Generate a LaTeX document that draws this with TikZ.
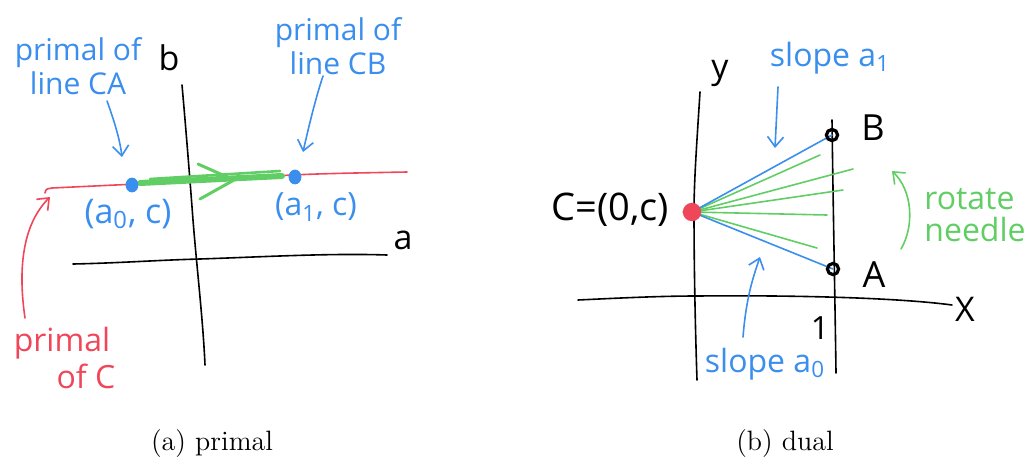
\documentclass[tikz,border=0pt]{standalone}
\usepackage{fontspec}
\usetikzlibrary{arrows.meta}
\newfontfamily\hand{Open Sans}
\definecolor{hblue}{RGB}{58,142,237}
\definecolor{hred}{RGB}{240,70,90}
\definecolor{hgreen}{RGB}{96,206,100}
\tikzset{
  ax/.style={draw=black,line width=0.8pt,line cap=round},
  hline/.style={line width=0.8pt,line cap=round},
  harrow/.style={line width=0.8pt,line cap=round,-{Straight Barb[length=5pt,width=8pt,line width=0.8pt]}},
  htext/.style={font=\hand\fontsize{#1}{#1}\selectfont,inner sep=0pt},
  captxt/.style={font=\fontsize{14}{16}\selectfont,anchor=base,inner sep=0pt}
}
\begin{document}
\begin{tikzpicture}[x=0.5pt,y=-0.5pt]
\useasboundingbox (0,0) rectangle (1026,461);
% ---------------- left panel (primal) ----------------
\coordinate (bTop) at (182,85);
\coordinate (bMid) at (193,220);
\coordinate (bBot) at (205,365);
\coordinate (aL) at (73,264);
\coordinate (aM) at (200,259);
\coordinate (aR) at (387,255);
\draw[ax] (bTop) .. controls (186,130) and (190,180) .. (bMid) .. controls (197,270) and (203,320) .. (bBot);
\draw[ax] (aL) .. controls (120,263) and (160,260) .. (aM) .. controls (260,257) and (330,253) .. (aR);
\node[htext=17] (lb) at (169,58) {b};
\node[htext=17] (la) at (403,240) {a};
% red primal of C line
\coordinate (rS) at (45,193);
\coordinate (rK) at (52,188);
\coordinate (rE) at (407,172);
\draw[hline,hred] (rS) .. controls (46,189) .. (rK) -- (200,181) .. controls (300,174) .. (rE);
% green needle motion band
\coordinate (gS) at (140,183);
\coordinate (gE) at (282,176);
\draw[hgreen,line width=3pt,line cap=round] (gS) -- (gE);
\draw[hgreen,line width=1.3pt,line cap=round] (150,179) -- (280,171);
\coordinate (gT) at (234,180);
\coordinate (gU) at (198,164);
\coordinate (gD) at (200,199);
\draw[hgreen,line width=1.5pt,line cap=round,line join=round] (gU) -- (gT) -- (gD);
% blue points
\fill[hblue] (132,185) ellipse (3.2pt and 3.7pt) coordinate (p0);
\fill[hblue] (295,177) ellipse (3.2pt and 3.7pt) coordinate (p1);
\node[htext=17,hblue] (lp0) at (128,214) {(a\textsubscript{0}, c)};
\node[htext=16,hblue] (lp1) at (316,207) {(a\textsubscript{1}, c)};
% labels primal of line CA / CB
\node[htext=15,hblue,align=center] (tCA) at (78,66) {primal of\\[2pt]line CA};
\node[htext=15,hblue,align=center] (tCB) at (338,46) {primal of\\[2pt]line CB};
\coordinate (aCAs) at (107,101);
\coordinate (aCAe) at (122,157);
\coordinate (aCBs) at (323,76);
\coordinate (aCBe) at (303,152);
\draw[harrow,hblue] (aCAs) .. controls (114,120) and (120,140) .. (aCAe);
\draw[harrow,hblue] (aCBs) .. controls (315,100) and (308,130) .. (aCBe);
% primal of C
\node[htext=16,hred,align=center] (tC) at (62,358) {primal\\[1pt]\hspace*{1.5em}of C};
\coordinate (rAs) at (25,318);
\coordinate (rAe) at (50,197);
\draw[harrow,hred] (rAs) .. controls (18,270) and (22,225) .. (rAe);
% ---------------- right panel (dual) ----------------
\coordinate (yTop) at (700,92);
\coordinate (yMid) at (694,212);
\coordinate (yBot) at (697,380);
\coordinate (xL) at (578,300);
\coordinate (xM) at (697,296);
\coordinate (xR) at (952,305);
\coordinate (oTop) at (832,120);
\coordinate (oBot) at (836,373);
\draw[ax] (yTop) .. controls (697,140) and (694,180) .. (yMid) .. controls (694,260) and (695,320) .. (yBot);
\draw[ax] (xL) .. controls (620,298) and (660,296) .. (xM) .. controls (800,295) and (900,298) .. (xR);
\draw[ax] (oTop) .. controls (833,200) and (835,300) .. (oBot);
\node[htext=17] (ly) at (720,73) {y};
\node[htext=17] (lx) at (965,309) {X};
\node[htext=16] (l1) at (820,328) {1};
\coordinate (C) at (692,212);
\coordinate (B) at (832,135);
\coordinate (A) at (833,269);
% green needle positions
\coordinate (n1) at (820,155);
\coordinate (n2) at (853,169);
\coordinate (n3) at (843,190);
\coordinate (n4) at (827,215);
\coordinate (n5) at (817,248);
\coordinate (n0) at (683,212);
\foreach \n in {n1,n2,n3,n4,n5} \draw[hline,hgreen] (C) -- (\n);
\draw[hline,hgreen] (n0) -- (C);
\draw[hline,hblue] (C) -- (B);
\draw[hline,hblue] (C) -- (A);
\draw[line width=1.6pt] (B) circle (2.8pt);
\draw[line width=1.6pt] (A) circle (2.8pt);
\fill[hred] (C) circle (4.6pt);
\node[htext=18] (lB) at (873,128) {B};
\node[htext=18] (lA) at (874,275) {A};
\node[htext=19] (lC) at (610,210) {C=(0,c)};
% slope labels
\node[htext=16,hblue] (s1) at (830,58) {slope a\textsubscript{1}};
\node[htext=16,hblue] (s0) at (765,364) {slope a\textsubscript{0}};
\coordinate (s1s) at (778,87);
\coordinate (s1e) at (775,148);
\coordinate (s0s) at (743,337);
\coordinate (s0e) at (760,257);
\draw[harrow,hblue] (s1s) -- (s1e);
\draw[harrow,hblue] (s0s) .. controls (746,300) and (752,280) .. (s0e);
% rotate needle
\node[htext=16,hgreen,align=left] (rn) at (975,215) {rotate\\needle};
\coordinate (rnS) at (901,249);
\coordinate (rnE) at (892,171);
\draw[harrow,hgreen] (rnS) .. controls (915,225) and (912,190) .. (rnE);
% captions
\node[captxt] (capA) at (212,450) {(a) primal};
\node[captxt] (capB) at (785,450) {(b) dual};
\end{tikzpicture}
\end{document}
